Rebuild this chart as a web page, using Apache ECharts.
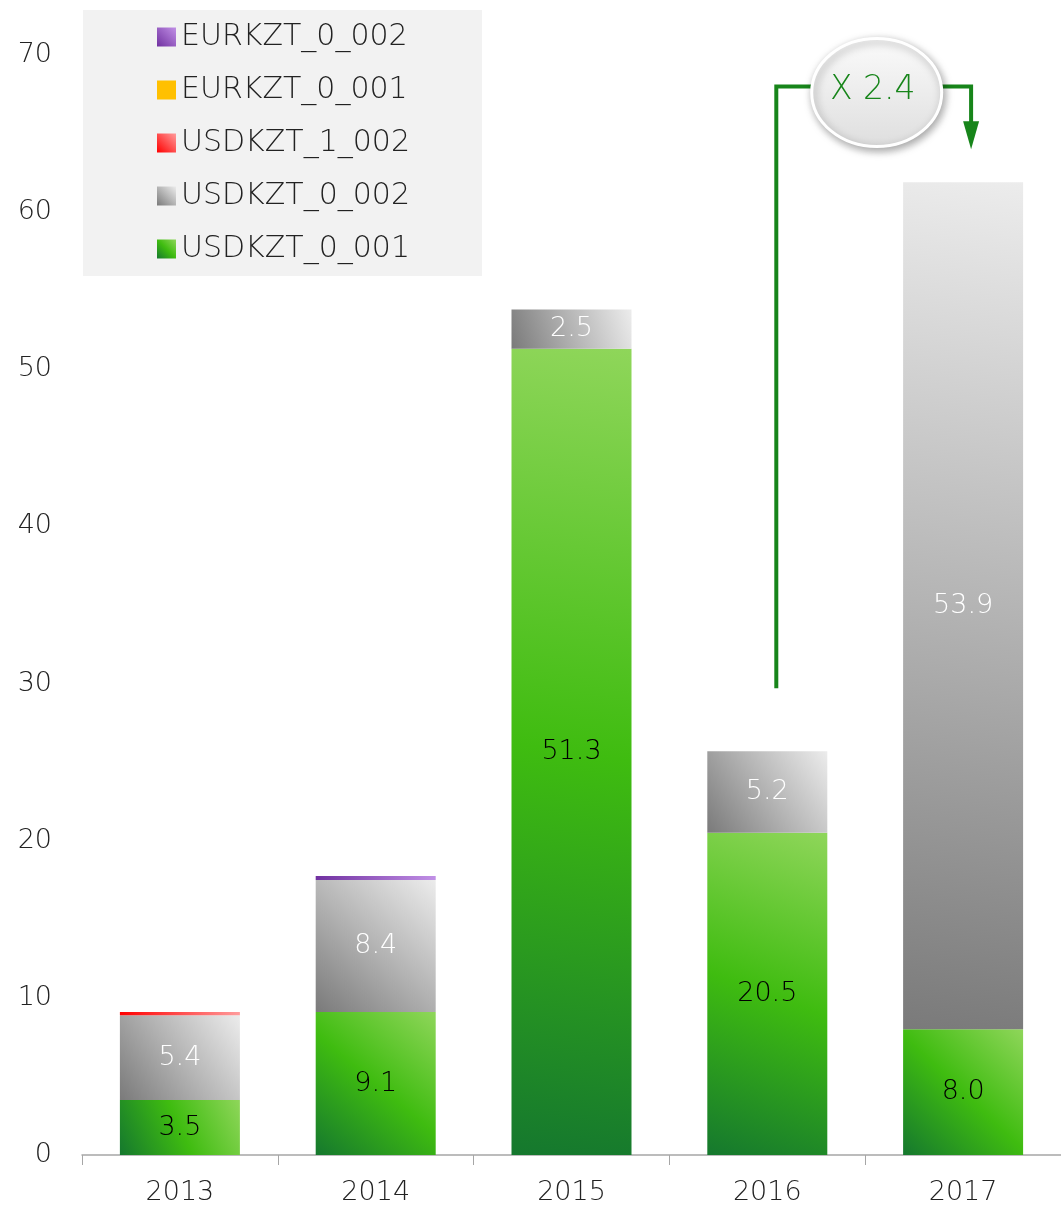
<!DOCTYPE html>
<html>
<head>
<meta charset="utf-8">
<script src="https://cdn.jsdelivr.net/npm/echarts@6/dist/echarts.min.js"></script>
<style>
  html, body { margin: 0; padding: 0; background: #fff; }
  #main { width: 1061px; height: 1209px; }
</style>
</head>
<body>
<div id="main"></div>
<script>
// data
const years = ['2013', '2014', '2015', '2016', '2017'];
const usd001 = [3.5, 9.1, 51.3, 20.5, 8.0];
const usd002 = [5.4, 8.4, 2.5, 5.2, 53.9];
const usd1002 = [0.2, 0, 0, 0, 0];
const eur001 = [0, 0, 0, 0, 0];
const eur002 = [0, 0.25, 0, 0, 0];
const growthText = 'X 2.4';

const FONT = '"DejaVu Sans"';

function grad(c1, c2, c3) {
  // bottom-left -> top-right
  const stops = c3
    ? [{ offset: 0, color: c1 }, { offset: 0.5, color: c2 }, { offset: 1, color: c3 }]
    : [{ offset: 0, color: c1 }, { offset: 1, color: c2 }];
  return new echarts.graphic.LinearGradient(0, 1, 1, 0, stops);
}

function barSeries(name, data, color, labelColor) {
  return {
    name: name,
    type: 'bar',
    stack: 'total',
    barWidth: 120,
    data: data,
    itemStyle: { color: color },
    label: {
      show: !!labelColor,
      position: 'inside',
      color: labelColor,
      fontFamily: FONT,
      fontWeight: 200,
      fontSize: 27,
      formatter: p => p.value.toFixed(1)
    }
  };
}

const chart = echarts.init(document.getElementById('main'));

const option = {
  animation: false,
  grid: { left: 82, right: 0, top: 55, bottom: 54 },
  legend: {
    orient: 'vertical',
    left: 83,
    top: 10,
    backgroundColor: '#f2f2f2',
    padding: [12, 72, 12, 74],
    itemWidth: 19,
    itemHeight: 19,
    itemGap: 23,
    icon: 'rect',
    textStyle: { fontFamily: FONT, fontWeight: 200, fontSize: 30, color: '#222', lineHeight: 30 },
    data: ['EURKZT_0_002', 'EURKZT_0_001', 'USDKZT_1_002', 'USDKZT_0_002', 'USDKZT_0_001']
  },
  xAxis: {
    type: 'category',
    data: years,
    axisLine: { lineStyle: { color: '#a6a6a6', width: 1.5 } },
    axisTick: { show: true, length: 10, lineStyle: { color: '#a6a6a6' } },
    axisLabel: { fontFamily: FONT, fontWeight: 200, fontSize: 27, color: '#222', margin: 24 }
  },
  yAxis: {
    type: 'value',
    min: 0,
    max: 70,
    interval: 10,
    splitLine: { show: false },
    axisLine: { show: false },
    axisLabel: { fontFamily: FONT, fontWeight: 200, fontSize: 27, color: '#222', margin: 30 }
  },
  series: [
    barSeries('USDKZT_0_001', usd001, grad('#15782e', '#3fbc10', '#8fd65a'), '#000'),
    barSeries('USDKZT_0_002', usd002, grad('#7a7a7a', '#b4b4b4', '#ececec'), '#fff'),
    barSeries('USDKZT_1_002', usd1002, grad('#ff0000', '#ff9c9c'), null),
    barSeries('EURKZT_0_001', eur001, '#ffc000', null),
    barSeries('EURKZT_0_002', eur002, grad('#7030a0', '#c190e6'), null)
  ]
};

chart.setOption(option);

// growth annotation between 2016 and 2017
const x16 = chart.convertToPixel({ xAxisIndex: 0 }, '2016') + 9;
const x17 = chart.convertToPixel({ xAxisIndex: 0 }, '2017') + 8;
const yLow = chart.convertToPixel({ yAxisIndex: 0 }, 29.7);
const yTop = chart.convertToPixel({ yAxisIndex: 0 }, 68.0);
const yTip = chart.convertToPixel({ yAxisIndex: 0 }, 64.0);
const cx = (x16 + x17) / 2 + 3;
const cy = yTop + 6;
const green = '#17851a';

chart.setOption({
  graphic: [
    {
      type: 'polyline',
      shape: { points: [[x16, yLow], [x16, yTop], [cx - 40, yTop]] },
      style: { stroke: green, lineWidth: 4, fill: null }
    },
    {
      type: 'polyline',
      shape: { points: [[cx + 40, yTop], [x17, yTop], [x17, yTip - 26]] },
      style: { stroke: green, lineWidth: 4, fill: null }
    },
    {
      type: 'polygon',
      shape: { points: [[x17 - 8, yTip - 28], [x17 + 8, yTip - 28], [x17, yTip]] },
      style: { fill: green }
    },
    {
      type: 'ellipse',
      shape: { cx: cx, cy: cy, rx: 65, ry: 54 },
      style: {
        fill: new echarts.graphic.LinearGradient(0, 0, 0, 1, [
          { offset: 0, color: '#fbfbfb' },
          { offset: 1, color: '#dedede' }
        ]),
        stroke: '#ffffff',
        lineWidth: 3,
        shadowBlur: 8,
        shadowOffsetX: 2,
        shadowOffsetY: 3,
        shadowColor: 'rgba(0,0,0,0.35)'
      }
    },
    {
      type: 'text',
      x: cx - 4,
      y: cy - 2,
      style: {
        text: growthText,
        fill: green,
        font: '200 33px ' + FONT,
        align: 'center',
        verticalAlign: 'middle'
      }
    }
  ]
});
</script>
</body>
</html>
